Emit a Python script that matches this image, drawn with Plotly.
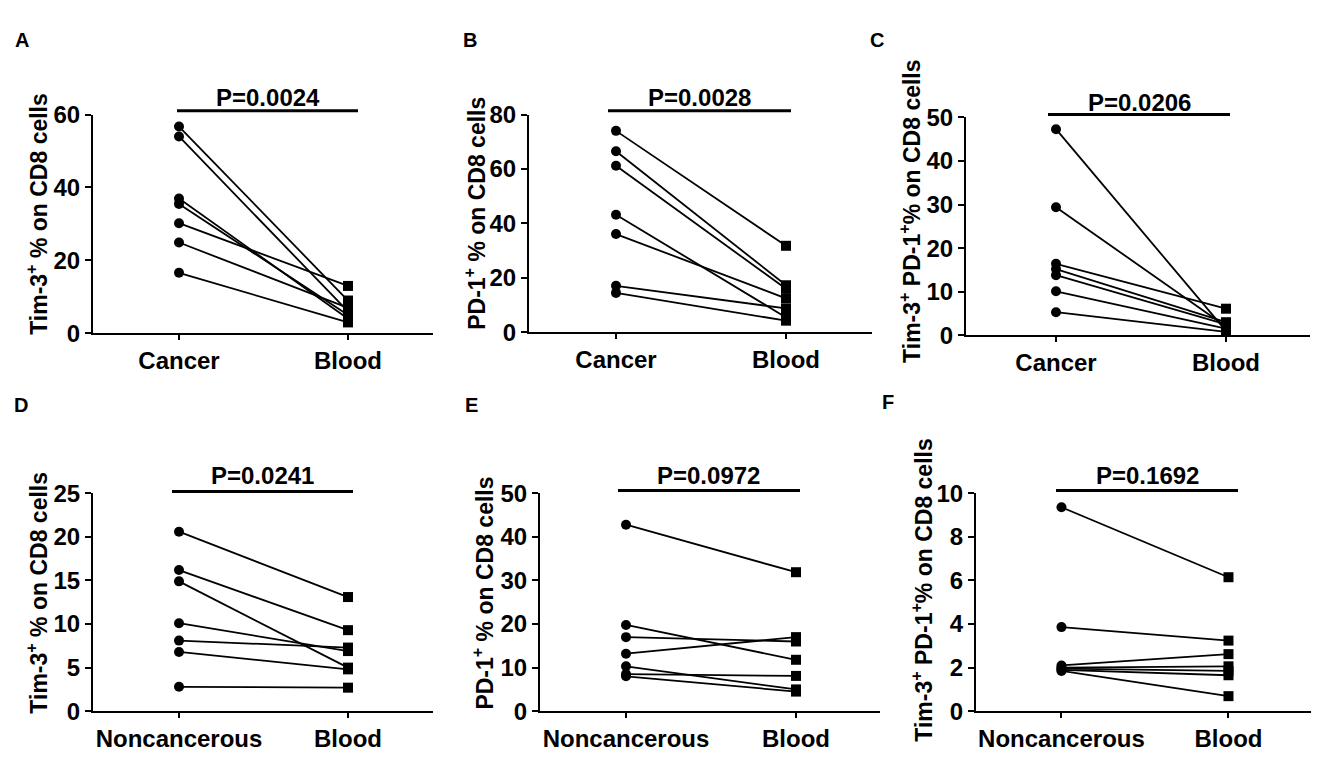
import plotly.graph_objects as go

PAGE_W, PAGE_H = 1319, 764
M = 8  # default browser body margin
W, H = PAGE_W - 2 * M, PAGE_H - 2 * M

# ---------------- data ----------------
A_cancer = [56.7, 54.0, 37.0, 35.5, 30.2, 24.9, 16.6]
A_blood = [9.0, 6.0, 4.0, 5.0, 13.0, 7.0, 3.0]
B_cancer = [74.0, 66.5, 61.2, 43.2, 36.1, 17.1, 14.5]
B_blood = [31.8, 17.3, 16.0, 5.5, 12.5, 8.8, 4.3]
C_cancer = [47.3, 29.4, 16.4, 15.2, 13.8, 10.1, 5.3]
C_blood = [1.0, 2.0, 6.1, 3.0, 2.5, 1.5, 0.8]
D_non = [20.6, 16.2, 14.9, 10.1, 8.1, 6.8, 2.8]
D_blood = [13.1, 9.3, 5.0, 6.9, 7.3, 4.8, 2.7]
E_non = [42.8, 19.8, 17.0, 13.2, 10.3, 8.5, 8.0]
E_blood = [31.9, 11.8, 16.0, 17.0, 5.0, 8.1, 4.5]
F_non = [9.36, 3.86, 2.1, 2.0, 1.95, 1.9, 1.85]
F_blood = [6.15, 3.24, 2.62, 2.06, 1.85, 1.65, 0.69]

cat_top = ["Cancer", "Blood"]
cat_bottom = ["Noncancerous", "Blood"]
p_values = ["P=0.0024", "P=0.0028", "P=0.0206", "P=0.0241", "P=0.0972", "P=0.1692"]
panel_letters = ["A", "B", "C", "D", "E", "F"]
y_titles = [
    "Tim-3<sup>+</sup> % on CD8 cells",
    "PD-1<sup>+</sup> % on CD8 cells",
    "Tim-3<sup>+</sup> PD-1<sup>+</sup>% on CD8 cells",
    "Tim-3<sup>+</sup> % on CD8 cells",
    "PD-1<sup>+</sup> % on CD8 cells",
    "Tim-3<sup>+</sup> PD-1<sup>+</sup>% on CD8 cells",
]
y_max = [60, 80, 50, 25, 50, 10]
y_dtick = [20, 20, 10, 5, 10, 2]

panels = [
    (A_cancer, A_blood, cat_top),
    (B_cancer, B_blood, cat_top),
    (C_cancer, C_blood, cat_top),
    (D_non, D_blood, cat_bottom),
    (E_non, E_blood, cat_bottom),
    (F_non, F_blood, cat_bottom),
]

# ---------------- layout geometry (page pixels) ----------------
boxes = [
    (93, 433, 104, 331),
    (529, 872, 104, 330),
    (966, 1310, 107, 333),
    (93, 433, 497, 723),
    (540, 880, 497, 723),
    (976, 1317, 497, 723),
]
cat_px = [(179, 348), (616, 786), (1056, 1226), (179, 348), (626, 796), (1063, 1233)]
ytitle_pos = [(37, 207), (475, 207), (910, 205), (37, 600), (483, 601), (922, 598)]
letter_pos = [(22, 27), (470, 27), (877, 27), (21, 405), (471, 405), (888, 402)]
pbar = [(177, 358, 100), (608, 791, 100), (1048, 1230, 104),
        (172, 353, 495), (618, 800, 494), (1056, 1238, 494)]
ptext_y = [86, 86, 91, 479, 479, 479]


def px(x):
    return (x - M) / W


def py(y):
    return 1 - (y - M) / H


FONT = "Liberation Sans, Arial, sans-serif"

fig = go.Figure()
layout = dict(
    width=W, height=H,
    margin=dict(l=0, r=0, t=0, b=0),
    paper_bgcolor="white", plot_bgcolor="white",
    showlegend=False,
    font=dict(family=FONT, color="black", size=23, weight="bold"),
)
annotations = []
shapes = []

for i, (left, right, cats) in enumerate(panels):
    n = i + 1
    xa = "x" if n == 1 else f"x{n}"
    ya = "y" if n == 1 else f"y{n}"
    xl, xr, yt, yb = boxes[i]
    c0, c1 = cat_px[i]
    ppu = (c1 - c0)
    xmin = (xl - c0) / ppu
    xmax = (xr - c0) / ppu

    for a, b in zip(left, right):
        fig.add_trace(go.Scatter(
            x=[0, 1], y=[a, b], mode="lines",
            line=dict(color="black", width=1.8),
            xaxis=xa, yaxis=ya, cliponaxis=False, hoverinfo="skip"))
    fig.add_trace(go.Scatter(
        x=[0] * len(left), y=left, mode="markers",
        marker=dict(symbol="circle", size=10, color="black"),
        xaxis=xa, yaxis=ya, cliponaxis=False))
    fig.add_trace(go.Scatter(
        x=[1] * len(right), y=right, mode="markers",
        marker=dict(symbol="square", size=10, color="black"),
        xaxis=xa, yaxis=ya, cliponaxis=False))

    layout["xaxis" if n == 1 else f"xaxis{n}"] = dict(
        domain=[max(0, px(xl)), min(1, px(xr))], anchor=ya, range=[xmin, xmax],
        tickvals=[0, 1], ticktext=cats, ticks="outside", ticklen=5,
        tickwidth=2, tickcolor="black", showline=True, linecolor="black",
        linewidth=2, showgrid=False, zeroline=False,
        tickfont=dict(size=24, family=FONT, weight="bold", color="black"),
    )
    layout["yaxis" if n == 1 else f"yaxis{n}"] = dict(
        domain=[py(yb), py(yt)], anchor=xa, range=[0, y_max[i]],
        dtick=y_dtick[i], tick0=0, ticks="outside", ticklen=6, tickwidth=2,
        tickcolor="black", showline=True, linecolor="black", linewidth=2,
        showgrid=False, zeroline=False,
        tickfont=dict(size=24, family=FONT, weight="bold", color="black"),
    )

    tx, ty = ytitle_pos[i]
    annotations.append(dict(
        text=y_titles[i], x=px(tx), y=py(ty), xref="paper", yref="paper",
        textangle=-90, showarrow=False, xanchor="center", yanchor="middle",
        font=dict(size=23, family=FONT, weight="bold", color="black")))
    lx, ly = letter_pos[i]
    annotations.append(dict(
        text=panel_letters[i], x=px(lx), y=py(ly), xref="paper", yref="paper",
        showarrow=False, xanchor="center", yanchor="middle",
        font=dict(size=20, family=FONT, weight="bold", color="black")))
    bx0, bx1, by = pbar[i]
    shapes.append(dict(type="line", xref="paper", yref="paper",
                       x0=px(bx0), x1=px(bx1), y0=py(by), y1=py(by),
                       line=dict(color="black", width=3)))
    annotations.append(dict(
        text=p_values[i], x=px((bx0 + bx1) / 2), y=py(ptext_y[i]),
        xref="paper", yref="paper", showarrow=False,
        xanchor="center", yanchor="middle",
        font=dict(size=24, family=FONT, weight="bold", color="black")))

layout["annotations"] = annotations
layout["shapes"] = shapes
fig.update_layout(**layout)
fig.write_html("out.html")
